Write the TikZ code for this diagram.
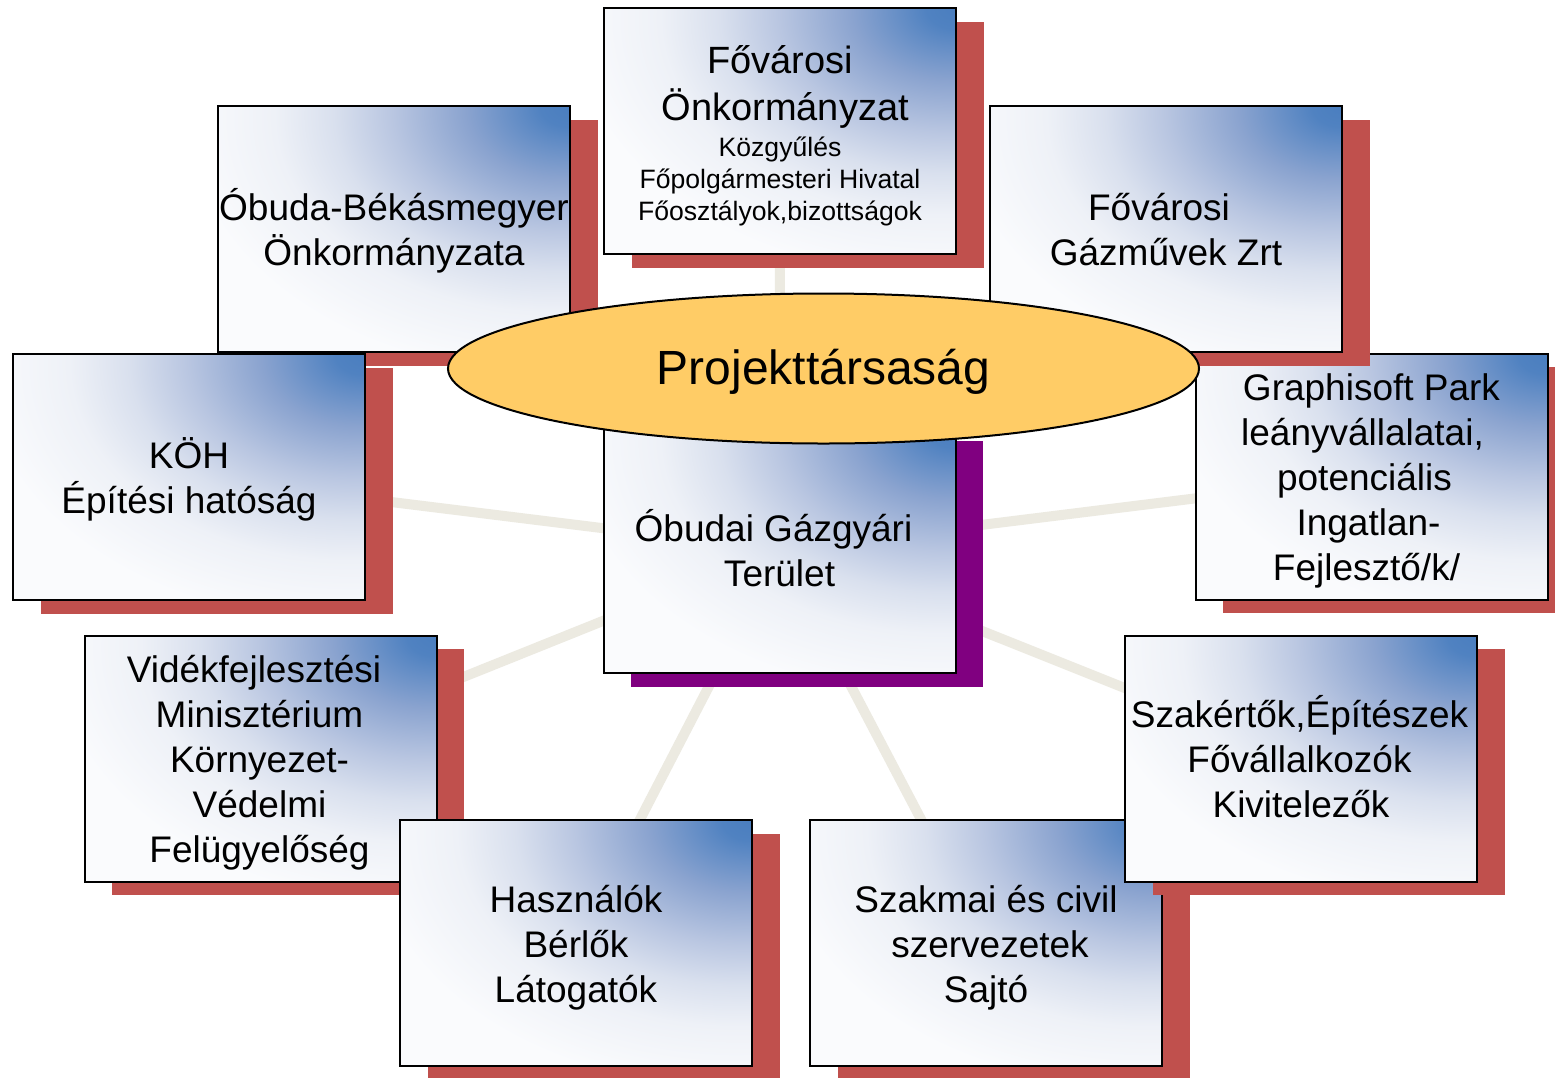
\documentclass[tikz,border=0pt]{standalone}
\usepackage{fontspec}
\setmainfont{Liberation Sans}
\usetikzlibrary{shapes.geometric,shadows}
\definecolor{bxblue}{RGB}{74,126,191}
\definecolor{bxbA}{RGB}{80,130,193}
\definecolor{bxbB}{RGB}{138,163,207}
\definecolor{bxbC}{RGB}{185,198,225}
\definecolor{bxbD}{RGB}{217,224,238}
\definecolor{bxbE}{RGB}{238,241,247}
\definecolor{bxbF}{RGB}{250,251,253}
\definecolor{shred}{RGB}{192,80,77}
\definecolor{shpurple}{RGB}{128,0,128}
\definecolor{connbeige}{RGB}{236,234,225}
\definecolor{ellfill}{RGB}{255,204,102}
\pgfdeclareradialshading{cornerblue}{\pgfpoint{25bp}{25bp}}{color(0bp)=(bxblue); color(4bp)=(bxbA); color(14bp)=(bxbB); color(24bp)=(bxbC); color(32bp)=(bxbD); color(40bp)=(bxbE); color(52bp)=(bxbF); color(500bp)=(white)}
\pgfdeclarelayer{background}
\pgfsetlayers{background,main}
\newcommand\fosmall{\fontsize{26.6}{31.7}\selectfont}
\newcommand\tsH{\rule{0pt}{40pt}}
\newcommand\tsD{\rule[-12pt]{0pt}{12pt}}
\begin{document}
\begin{tikzpicture}[x=1pt,y=-1pt,
  pbox/.style={draw=black, line width=2pt, shade, shading=cornerblue,
    minimum width=352pt, minimum height=246pt, inner sep=0pt, align=center,
    font=\fontsize{37}{45}\selectfont,
    drop shadow={fill=#1, opacity=1, shadow xshift=27.5pt, shadow yshift=-13.5pt}},
  pbox/.default=shred,
  conn/.style={draw=connbeige, line width=10pt},
  hub/.style={ellipse, draw=black, line width=2pt, fill=ellfill,
    minimum width=751pt, minimum height=150pt, inner sep=0pt,
    font=\fontsize{48}{56}\selectfont}]
\useasboundingbox (0,0) rectangle (1555,1077);
\node[pbox, font=\fontsize{38}{47.5}\selectfont] (fo) at (780,131)
  {\rule{0pt}{42pt}Fővárosi\\\kern10.5pt Önkormányzat\\[-11.5pt]{\fosmall Közgyűlés}\\[-15.8pt]{\fosmall Főpolgármesteri Hivatal}\\[-15.8pt]{\fosmall Főosztályok,bizottságok\rule[-10.7pt]{0pt}{10.7pt}}};
\node[pbox] (ob) at (394,229) {\tsH Óbuda-Békásmegyer\\Önkormányzata\tsD};
\node[pbox] (gra) at (1371.5,476.5) {\tsH Graphisoft Park\\leányvállalatai,\kern18pt\\potenciális\kern14pt\\Ingatlan-\kern6pt\\Fejlesztő/k/\kern10pt\tsD};
\node[pbox] (gaz) at (1166,229) {\tsH Fővárosi\kern14pt\\Gázművek Zrt\tsD};
\node[pbox] (koh) at (189,477) {\tsH KÖH\\Építési hatóság\tsD};
\node[pbox=shpurple] (ter) at (779.5,550) {\tsH Óbudai Gázgyári\kern12pt\\Terület\tsD};
\node[pbox] (vid) at (260.5,758.5) {\tsH Vidékfejlesztési\kern13pt\\Minisztérium\kern2pt\\Környezet-\kern2pt\\Védelmi\kern2pt\\Felügyelőség\kern2pt\tsD};
\node[pbox] (hasz) at (576,943) {\tsH Használók\\Bérlők\\Látogatók\tsD};
\node[pbox] (szm) at (986,943) {\tsH Szakmai és civil\\\kern8pt szervezetek\\Sajtó\tsD};
\node[pbox] (szk) at (1301,758.5) {\tsH Szakértők,Építészek\kern3pt\\Fővállalkozók\kern3pt\\Kivitelezők\tsD};
\node[hub] (proj) at (823.5,368.5) {\rule[-15pt]{0pt}{61pt}Projekttársaság};
\begin{pgfonlayer}{background}
\fill[white] (0,0) rectangle (1555,1077);
\foreach \t in {fo,ob,gaz,koh,gra,vid,hasz,szm,szk}
  \draw[conn] (ter.center) -- (\t.center);
\end{pgfonlayer}
\end{tikzpicture}
\end{document}
